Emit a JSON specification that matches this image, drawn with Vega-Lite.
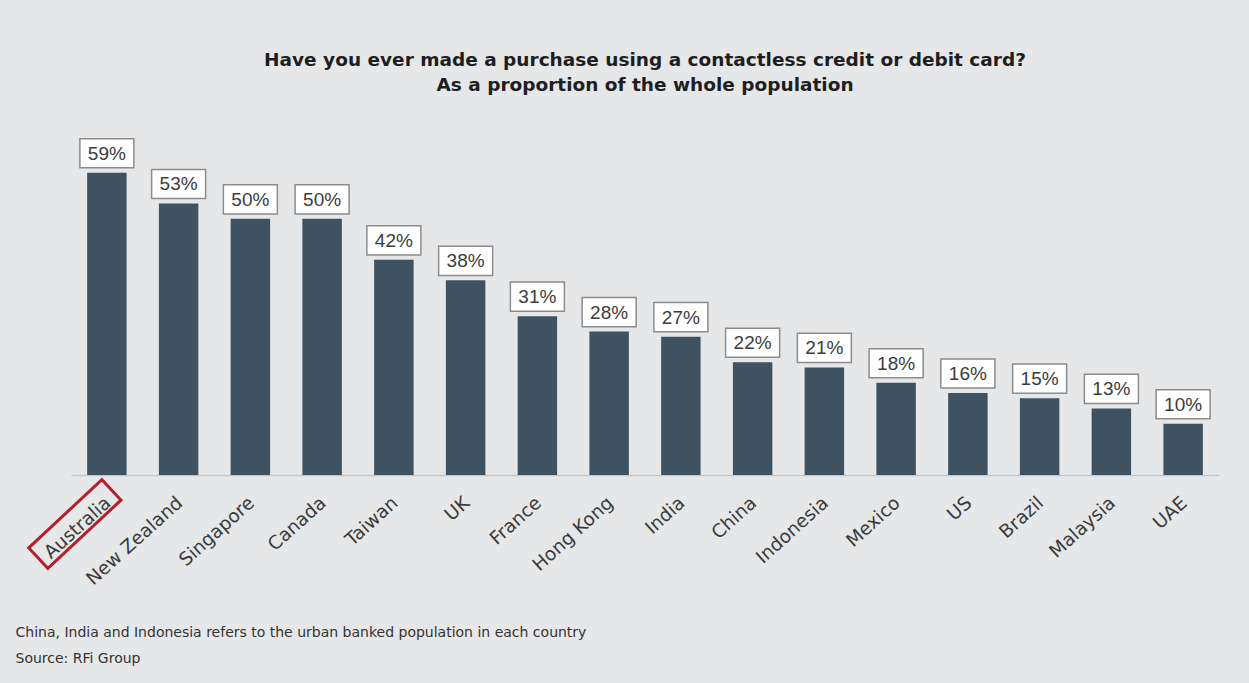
{
  "$schema": "https://vega.github.io/schema/vega-lite/v6.json",
  "autosize": {"type": "none"},
  "width": 1148,
  "height": 333,
  "padding": {"left": 71, "top": 142, "right": 30, "bottom": 208},
  "background": "#e6e7e8",
  "config": {"view": {"stroke": null}, "font": "Liberation Sans"},
  "title": {
    "text": ["Have you ever made a purchase using a contactless credit or debit card?", "As a proportion of the whole population"],
    "font": "DejaVu Sans",
    "fontSize": 18.5,
    "fontWeight": "bold",
    "color": "#1e1e1e",
    "lineHeight": 25,
    "anchor": "middle",
    "offset": 41
  },
  "data": {
    "values": [
      {"country": "Australia", "share": 0.59},
      {"country": "New Zealand", "share": 0.53},
      {"country": "Singapore", "share": 0.50},
      {"country": "Canada", "share": 0.50},
      {"country": "Taiwan", "share": 0.42},
      {"country": "UK", "share": 0.38},
      {"country": "France", "share": 0.31},
      {"country": "Hong Kong", "share": 0.28},
      {"country": "India", "share": 0.27},
      {"country": "China", "share": 0.22},
      {"country": "Indonesia", "share": 0.21},
      {"country": "Mexico", "share": 0.18},
      {"country": "US", "share": 0.16},
      {"country": "Brazil", "share": 0.15},
      {"country": "Malaysia", "share": 0.13},
      {"country": "UAE", "share": 0.10}
    ]
  },
  "encoding": {
    "x": {
      "field": "country",
      "type": "nominal",
      "sort": null,
      "scale": {"paddingInner": 0.45, "paddingOuter": 0.225},
      "axis": {
        "title": ["China, India and Indonesia refers to the urban banked population in each country", "Source: RFi Group"],
        "titleFont": "DejaVu Sans",
        "titleFontSize": 14,
        "titleFontWeight": "normal",
        "titleColor": "#333333",
        "titleAnchor": "start",
        "titleAlign": "left",
        "titleBaseline": "alphabetic",
        "titleLineHeight": 26,
        "titleX": -56,
        "titleY": 161,
        "labelAngle": -42,
        "labelFont": "DejaVu Sans",
        "labelFontSize": 18.5,
        "labelColor": "#3a3a3a",
        "labelPadding": 18,
        "labelOffset": -5,
        "ticks": false,
        "domainColor": "#c5c5c5",
        "domainWidth": 1.5
      }
    }
  },
  "layer": [
    {
      "mark": {"type": "bar", "color": "#3e5262"},
      "encoding": {
        "y": {"field": "share", "type": "quantitative", "scale": {"domain": [0, 0.65]}, "axis": null}
      }
    },
    {
      "mark": {"type": "point", "shape": "M-1,-0.54H1V0.54H-1Z", "size": 2916, "filled": true, "fill": "#ffffff", "stroke": "#8c8c8c", "strokeWidth": 1.5, "opacity": 1, "yOffset": -19.5},
      "encoding": {
        "y": {"field": "share", "type": "quantitative"}
      }
    },
    {
      "mark": {"type": "text", "fontSize": 19, "color": "#3c3c3c", "baseline": "middle", "align": "center", "yOffset": -19},
      "encoding": {
        "y": {"field": "share", "type": "quantitative"},
        "text": {"field": "share", "type": "quantitative", "format": ".0%"}
      }
    },
    {
      "transform": [{"filter": "datum.country === 'Australia'"}],
      "mark": {"type": "point", "shape": "M-1,-0.28H1V0.28H-1Z", "size": 10000, "angle": -43, "filled": false, "stroke": "#b3202b", "strokeWidth": 3, "opacity": 1, "xOffset": -32, "yOffset": 49},
      "encoding": {
        "y": {"datum": 0, "type": "quantitative"}
      }
    }
  ]
}
